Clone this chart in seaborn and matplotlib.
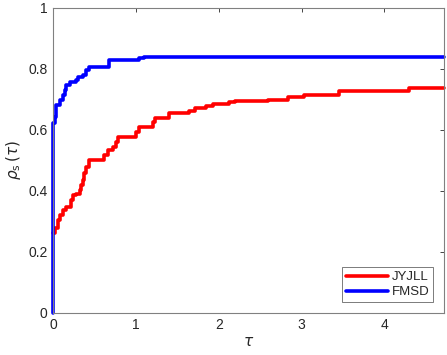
import matplotlib
matplotlib.use("Agg")
import matplotlib.pyplot as plt
import seaborn as sns
import pandas as pd

# JYJLL step profile
jyjll_tau = [0.0, 0.02, 0.06, 0.09, 0.12, 0.16, 0.22, 0.24, 0.28, 0.32, 0.34, 0.36,
             0.38, 0.40, 0.43, 0.62, 0.66, 0.72, 0.76, 0.79, 1.00, 1.04, 1.21, 1.23,
             1.40, 1.64, 1.71, 1.85, 1.93, 2.13, 2.20, 2.60, 2.84, 3.03, 3.45, 4.30, 4.72]
jyjll_rho = [0.26, 0.277, 0.304, 0.32, 0.337, 0.348, 0.37, 0.386, 0.388, 0.402, 0.419, 0.435,
             0.457, 0.479, 0.50, 0.517, 0.533, 0.544, 0.561, 0.577, 0.593, 0.608, 0.626, 0.64,
             0.656, 0.662, 0.67, 0.678, 0.686, 0.692, 0.694, 0.698, 0.706, 0.714, 0.728, 0.736, 0.736]

# FMSD step profile
fmsd_tau = [0.0, 0.0, 0.02, 0.04, 0.08, 0.12, 0.14, 0.16, 0.20, 0.28, 0.30, 0.36,
            0.40, 0.44, 0.67, 1.04, 1.10, 4.72]
fmsd_rho = [0.0, 0.621, 0.643, 0.681, 0.697, 0.714, 0.73, 0.747, 0.757, 0.763, 0.774, 0.779,
            0.796, 0.806, 0.828, 0.834, 0.84, 0.84]

df = pd.concat([
    pd.DataFrame({"tau": jyjll_tau, "rho": jyjll_rho, "solver": "JYJLL"}),
    pd.DataFrame({"tau": fmsd_tau, "rho": fmsd_rho, "solver": "FMSD"}),
])

sns.set_style("white")
plt.rcParams["font.family"] = ["Liberation Sans", "DejaVu Sans"]

fig = plt.figure(figsize=(4.47, 3.55), dpi=100)
ax = fig.add_axes([0.1186, 0.119, 0.8747, 0.859])

sns.lineplot(data=df, x="tau", y="rho", hue="solver",
             palette={"JYJLL": "#ff0000", "FMSD": "#0000ff"},
             drawstyle="steps-post", sort=False, linewidth=2.6,
             estimator=None, ax=ax)
for ln in ax.lines:
    ln.set_clip_on(False)

ax.set_xlim(0, 4.72)
ax.set_ylim(0, 1)
ax.set_xticks([0, 1, 2, 3, 4])
ax.set_xticklabels(["0", "1", "2", "3", "4"])
ax.set_yticks([0, 0.2, 0.4, 0.6, 0.8, 1.0])
ax.set_yticklabels(["0", "0.2", "0.4", "0.6", "0.8", "1"])
ax.tick_params(direction="in", length=3, width=0.6, top=True, right=True,
               labelsize=10, colors="#262626", pad=4)
for s in ax.spines.values():
    s.set_color("#808080")
    s.set_linewidth(0.8)

ax.set_xlabel(r"$\tau$", fontsize=11, labelpad=2)
ax.set_ylabel(r"$\rho_{\rm s}\,(\tau)$", fontsize=11, labelpad=4)

leg = ax.legend(loc="lower right", fontsize=9.5, frameon=True, fancybox=False,
                edgecolor="#404040", borderaxespad=0.8, handlelength=3.2,
                handletextpad=0.3, labelspacing=0.2, borderpad=0.3)
leg.get_frame().set_linewidth(0.6)

fig.savefig("out.png", dpi=100)
